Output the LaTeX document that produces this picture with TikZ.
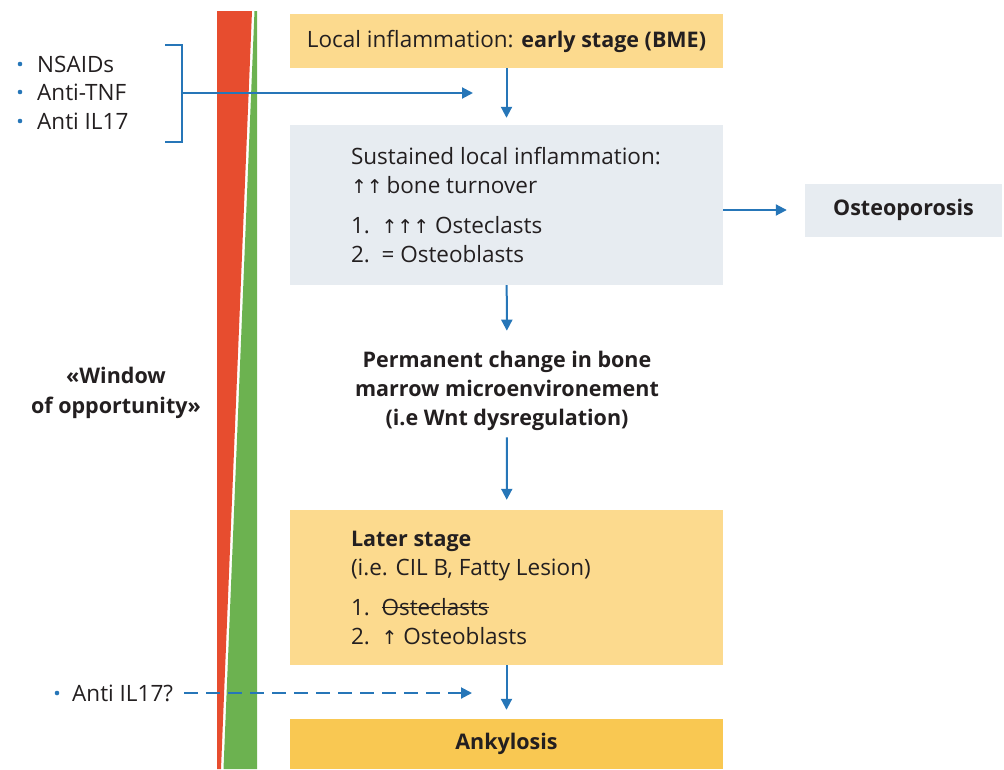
\documentclass[tikz,border=0pt]{standalone}
\usepackage{fontspec}
\setmainfont{Open Sans}
\newfontfamily\arrowfont{DejaVu Sans}
\usetikzlibrary{arrows.meta,positioning}

\definecolor{paleorange}{RGB}{252,218,142}
\definecolor{deeporange}{RGB}{249,200,82}
\definecolor{palegray}{RGB}{231,236,241}
\definecolor{flowblue}{RGB}{38,118,184}
\definecolor{barred}{RGB}{231,77,47}
\definecolor{bargreen}{RGB}{108,178,80}
\definecolor{inkgray}{RGB}{35,31,32}

\newcommand{\upar}{{\arrowfont\fontsize{19}{19}\selectfont ↑}}
\newlength{\strikelen}
\newcommand{\struck}[1]{\settowidth{\strikelen}{#1}\rlap{\rule[0.3em]{\strikelen}{1.2pt}}#1}

\tikzset{
	stagebox/.style={minimum width=433pt, inner sep=0pt},
	boldtext/.style={font=\fontsize{21.5}{29}\selectfont\bfseries},
	flow/.style={draw=flowblue, line width=2pt, -{Triangle[length=11pt,width=11pt]}},
	drug/.style={anchor=west, inner sep=2pt},
}

\begin{document}
\begin{tikzpicture}[x=1pt, y=-1pt, font=\fontsize{22.5}{29}\selectfont, text=inkgray]

	\useasboundingbox (0,0) rectangle (1004,769);

	% red / green bar
	\fill[barred] (217,11) -- (252,11) -- (221,769) -- (217,769) -- cycle;
	\fill[bargreen] (254.5,11) -- (257,11) -- (257,769) -- (223.5,769) -- cycle;

	% stages
	\node[stagebox, fill=paleorange, minimum height=54pt] (early) at (506.5,41)
		{Local inflammation: {\fontsize{21.5}{29}\selectfont\bfseries early stage (BME)}};
	\node[stagebox, fill=palegray, minimum height=160pt] (sustained) at (506.5,205) {};
	\node[anchor=west, align=left, inner sep=0pt] (sustainedtxt) at ([xshift=61pt]sustained.west)
		{Sustained local inflammation:\\ \upar\upar\,bone turnover\\[11pt]
		 1.\ \ \upar\upar\upar\ Osteclasts\\ 2.\ \ = Osteoblasts};
	\node[stagebox, boldtext, fill=palegray, minimum width=197pt, minimum height=53pt] (osteo) at (903.5,210)
		{Osteoporosis};
	\node[align=center, boldtext] (perm) at (507,391)
		{Permanent change in bone\\ marrow microenvironement\\ (i.e Wnt dysregulation)};
	\node[stagebox, fill=paleorange, minimum height=155pt] (later) at (506.5,587.5) {};
	\node[anchor=west, align=left, inner sep=0pt] (latertxt) at ([xshift=61pt]later.west)
		{{\fontsize{21.5}{29}\selectfont\bfseries Later stage}\\ (i.e. CIL B, Fatty Lesion)\\[11pt]
		 1.\ \ \struck{Osteclasts}\\ 2.\ \ \upar\ Osteoblasts};
	\node[stagebox, boldtext, fill=deeporange, minimum height=50pt] (ankylosis) at (506.5,744)
		{Ankylosis};

	\node[align=center, boldtext, font=\fontsize{21.5}{30}\selectfont\bfseries] (window) at (116,393)
		{«Window\\ of opportunity»};

	% treatments
	\foreach \name/\drug/\y in {nsaid/NSAIDs/64, antitnf/Anti-TNF/92, antiil/Anti IL17/121}{
		\fill[flowblue] (20,\y) circle (2.3pt);
		\node[drug] (\name) at (35,\y) {\drug};
	}
	\fill[flowblue] (57,693) circle (2.3pt);
	\node[drug] (antiilq) at (70,693) {Anti IL17?};

	\draw[draw=flowblue, line width=2pt] (165,45) -- (182,45) -- (182,142) -- (165,142);
	\coordinate (brk) at (182,93);
	\coordinate (tip1) at (473,93);
	\coordinate (tip2) at (472,693);

	\draw[flow] (brk) -- (tip1);
	\draw[flow, dash pattern=on 14pt off 8pt, shorten <=9pt] (antiilq.east) -- (tip2);

	% cascade
	\draw[flow, shorten >=7pt] (early) -- (sustained);
	\draw[flow, shorten >=18pt] (osteo.west -| sustained.east) -- (osteo.west);
	\draw[flow, shorten >=17pt] (sustained) -- (perm);
	\draw[flow, shorten <=3pt, shorten >=10pt] (perm) -- (later);
	\draw[flow, shorten >=9pt] (later) -- (ankylosis);

\end{tikzpicture}
\end{document}
